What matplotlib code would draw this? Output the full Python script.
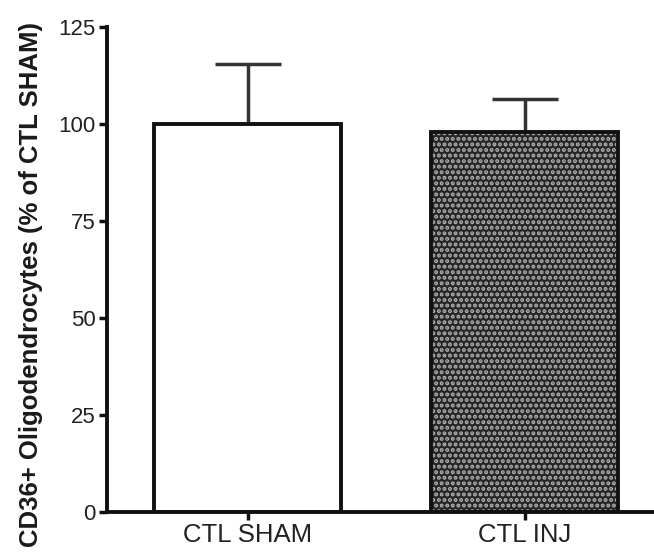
import matplotlib
matplotlib.use("Agg")
import matplotlib.pyplot as plt

categories = ["CTL SHAM", "CTL INJ"]
means = [100, 98]
sem = [15.5, 8.5]
yticks = [0, 25, 50, 75, 100, 125]

plt.rcParams['font.family'] = ['Liberation Sans', 'DejaVu Sans']
plt.rcParams['hatch.linewidth'] = 2.0

fig = plt.figure(figsize=(6.54, 5.58), dpi=100)
ax = fig.add_axes([0.1636, 0.0824, 0.8364, 0.8692])

x = list(range(len(categories)))
w = 0.675
# error bars (upper only)
ax.errorbar(x, means, yerr=[[0]*len(sem), sem], fmt='none', ecolor='#333333',
            elinewidth=2.5, capsize=24, capthick=2.5, zorder=1)
# bar 1 plain
ax.bar(x[0], means[0], width=w, facecolor='white', edgecolor='#111111', linewidth=2.8, zorder=2)
# bar 2 dotted pattern
ax.bar(x[1], means[1], width=w, facecolor='#262626', edgecolor='#b0b0b0', hatch='...',
       linewidth=0, zorder=2)
ax.bar(x[1], means[1], width=w, facecolor='none', edgecolor='#111111', linewidth=2.8, zorder=3)

ax.set_xlim(-0.509, 1.466)
ax.set_ylim(0, 125)
ax.set_yticks(yticks)
ax.set_yticklabels([str(v) for v in yticks], fontsize=16, color='#222222')
ax.set_xticks(x)
ax.set_xticklabels(categories, fontsize=18.5, color='#222222')
ax.tick_params(axis='both', direction='out', length=6, width=2.5, color='#111111', pad=2)
for s in ['top', 'right']:
    ax.spines[s].set_visible(False)
for s in ['left', 'bottom']:
    ax.spines[s].set_linewidth(2.8)
    ax.spines[s].set_color('#111111')
ax.set_ylabel("CD36+ Oligodendrocytes (% of CTL SHAM)", fontsize=18.5, fontweight='bold',
              color='#1a1a1a')
ax.yaxis.set_label_coords(-0.117, 0.470)

fig.savefig("out.png", dpi=100)
